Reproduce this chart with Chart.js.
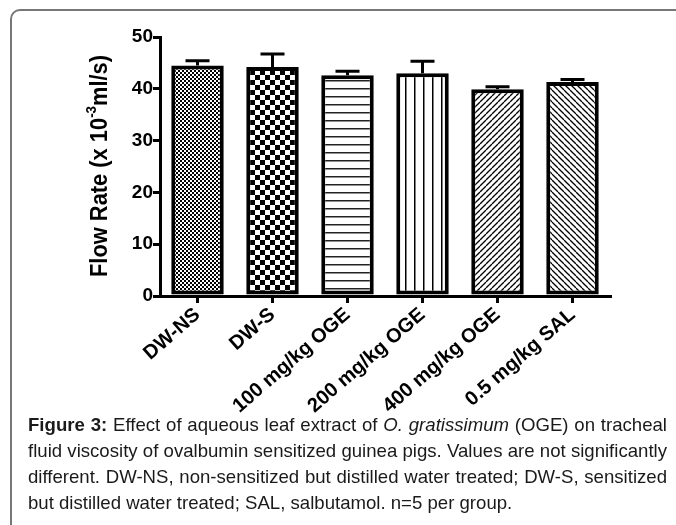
<!DOCTYPE html>
<html>
<head>
<meta charset="utf-8">
<script src="https://cdn.jsdelivr.net/npm/chart.js@4/dist/chart.umd.min.js"></script>
<style>
  html, body { margin: 0; padding: 0; background: #fff; overflow: hidden; }
  body { width: 676px; height: 525px; position: relative; }
  #frame {
    position: absolute; left: 10px; top: 9px; width: 700px; height: 560px;
    border: 2px solid #777; border-radius: 10px; box-sizing: border-box;
  }
  #wrap { position: absolute; left: 0; top: 0; width: 676px; height: 430px; }
  #caption {
    position: absolute; left: 28px; top: 412px; width: 639px;
    font-family: "Liberation Sans", Arial, sans-serif;
    font-size: 18.6px; line-height: 26px; color: #1a1a1a;
  }
  #caption .j { text-align: justify; text-align-last: justify; white-space: nowrap; }
</style>
</head>
<body>
<div id="frame"></div>
<div id="wrap"><canvas id="chart" width="676" height="430"></canvas></div>
<div id="caption">
  <div class="j"><b>Figure 3:</b> Effect of aqueous leaf extract of <i>O. gratissimum</i> (OGE) on tracheal</div>
  <div class="j">fluid viscosity of ovalbumin sensitized guinea pigs. Values are not significantly</div>
  <div class="j">different. DW-NS, non-sensitized but distilled water treated; DW-S, sensitized</div>
  <div>but distilled water treated; SAL, salbutamol. n=5 per group.</div>
</div>
<script>
// groups on the x axis
const groups = ['DW-NS', 'DW-S', '100 mg/kg OGE', '200 mg/kg OGE', '400 mg/kg OGE', '0.5 mg/kg SAL'];
// mean flow rate (x 10^-3 ml/s)
const means = [44.5, 44.2, 42.6, 43.0, 39.9, 41.3];
// SEM, drawn upward only
const sems = [0.9, 2.5, 0.8, 2.3, 0.5, 0.5];
// y axis ticks
const yTicks = [0, 10, 20, 30, 40, 50];

const canvas = document.getElementById('chart');
const ctx = canvas.getContext('2d');

// small tile -> repeating fill pattern
function makePattern(size, drawFn) {
  const c = document.createElement('canvas');
  c.width = size; c.height = size;
  const g = c.getContext('2d');
  g.fillStyle = '#fff';
  g.fillRect(0, 0, size, size);
  g.fillStyle = '#000';
  g.strokeStyle = '#000';
  drawFn(g, size);
  return ctx.createPattern(c, 'repeat');
}

function hatch(g, s, dir) {
  g.lineWidth = 1.3;
  for (let o = -s; o <= s; o += s) {
    g.beginPath();
    if (dir > 0) { g.moveTo(o, s); g.lineTo(o + s, 0); }
    else { g.moveTo(o, 0); g.lineTo(o + s, s); }
    g.stroke();
  }
}

const fills = [
  makePattern(4, (g) => { g.fillRect(0, 0, 2, 2); g.fillRect(2, 2, 2, 2); }),
  makePattern(10, (g) => { g.fillRect(0, 0, 5, 5); g.fillRect(5, 5, 5, 5); }),
  makePattern(8, (g) => { g.fillStyle = '#222'; g.fillRect(0, 0, 8, 1.5); }),
  makePattern(9, (g) => { g.fillRect(0, 0, 1.5, 9); }),
  makePattern(6, (g, s) => hatch(g, s, 1)),
  makePattern(6, (g, s) => hatch(g, s, -1))
];

// upward error bars with caps
const errorBars = {
  id: 'errorBars',
  afterDatasetsDraw(chart) {
    const meta = chart.getDatasetMeta(0);
    const y = chart.scales.y;
    const c = chart.ctx;
    c.save();
    c.strokeStyle = '#000';
    c.lineWidth = 3;
    meta.data.forEach((bar, i) => {
      const yb = y.getPixelForValue(means[i]);
      const yt = y.getPixelForValue(means[i] + sems[i]);
      c.beginPath();
      c.moveTo(bar.x, yb);
      c.lineTo(bar.x, yt);
      c.moveTo(bar.x - 12, yt);
      c.lineTo(bar.x + 12, yt);
      c.stroke();
    });
    c.restore();
  }
};

// y title with a superscript exponent, squeezed to the reference length
const yTitle = {
  id: 'yTitle',
  afterDraw(chart) {
    const c = chart.ctx;
    const big = 'bold 23px "Liberation Sans", Arial, sans-serif';
    const small = 'bold 14px "Liberation Sans", Arial, sans-serif';
    const parts = [['Flow Rate (x 10', big, 0], ['-3', small, -9], ['ml/s)', big, 0]];
    let total = 0;
    parts.forEach(p => { c.font = p[1]; total += c.measureText(p[0]).width; });
    const k = 222 / total;
    c.save();
    c.translate(101, 166);
    c.rotate(-Math.PI / 2);
    c.scale(k, 1);
    c.fillStyle = '#000';
    c.textBaseline = 'middle';
    c.textAlign = 'left';
    let x = -total / 2;
    parts.forEach(p => {
      c.font = p[1];
      c.fillText(p[0], x, p[2]);
      x += c.measureText(p[0]).width;
    });
    c.restore();
  }
};

const fontFamily = '"Liberation Sans", Arial, sans-serif';

new Chart(ctx, {
  type: 'bar',
  data: {
    labels: groups,
    datasets: [{
      data: means,
      backgroundColor: fills,
      borderColor: '#000',
      borderWidth: 4,
      borderSkipped: false,
      barPercentage: 0.7,
      categoryPercentage: 1.0
    }]
  },
  options: {
    responsive: false,
    animation: false,
    events: [],
    layout: { padding: { left: 0, right: 66, top: 37, bottom: 0 } },
    plugins: { legend: { display: false }, tooltip: { enabled: false } },
    scales: {
      x: {
        afterFit: (s) => { s.height = 134; },
        grid: { display: true, offset: false, drawOnChartArea: false, tickLength: 7, color: '#000', lineWidth: 3 },
        border: { display: true, color: '#000', width: 3 },
        ticks: { color: '#000', font: { family: fontFamily, size: 20, weight: 'bold' }, minRotation: 41, maxRotation: 41, padding: 0 }
      },
      y: {
        min: 0,
        max: 50,
        afterFit: (s) => { s.width = 160; },
        afterBuildTicks: (s) => { s.ticks = yTicks.map(v => ({ value: v })); },
        grid: { display: true, drawOnChartArea: false, tickLength: 7, color: '#000', lineWidth: 3 },
        border: { display: true, color: '#000', width: 3 },
        ticks: { color: '#000', font: { family: fontFamily, size: 19, weight: 'bold' }, padding: 0 }
      }
    }
  },
  plugins: [errorBars, yTitle]
});
</script>
</body>
</html>
